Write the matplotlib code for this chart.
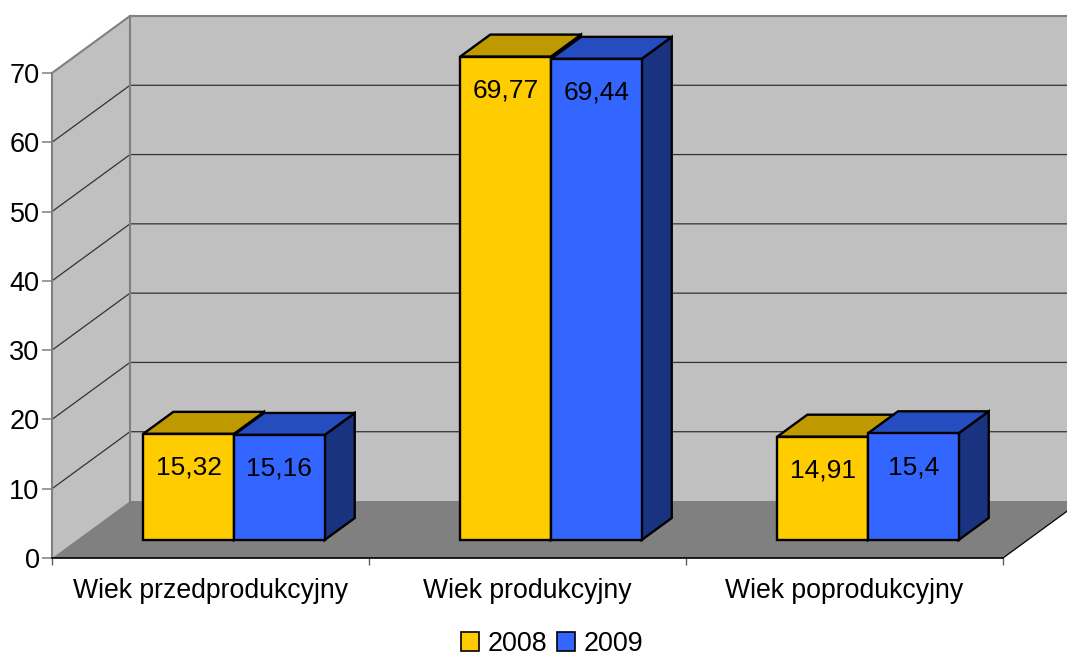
import matplotlib
matplotlib.use("Agg")
import matplotlib.pyplot as plt
from matplotlib.patches import Polygon, Patch

plt.rcParams['font.family'] = ['Liberation Sans', 'DejaVu Sans']

categories = ["Wiek przedprodukcyjny", "Wiek produkcyjny", "Wiek poprodukcyjny"]
series_names = ["2008", "2009"]
values_2008 = [15.32, 69.77, 14.91]
values_2009 = [15.16, 69.44, 15.4]
labels_2008 = ["15,32", "69,77", "14,91"]
labels_2009 = ["15,16", "69,44", "15,4"]
y_ticks = [0, 10, 20, 30, 40, 50, 60, 70]

FRONT = "#FFCC00", "#3366FF"
TOP = "#BF9900", "#264DBF"
SIDE = "#806600", "#1A3380"

W, H = 1067, 655
AX_H = 485
fig = plt.figure(figsize=(W / 100, H / 100), dpi=100, facecolor="white")
ax = fig.add_axes([52 / W, (H - 558) / H, 951 / W, AX_H / H])
ax.set_xlim(0, 3)
ax.set_ylim(0, 70)
ax.patch.set_visible(False)

# depth projection: one depth unit moves right and up on the page
DX = 78 / 317
DY = 57 / (AX_H / 70)


def proj(x, y, d):
    return (x + d * DX, y + d * DY)


def poly(points, fc, ec="none", lw=0, z=1):
    ax.add_patch(Polygon(points, closed=True, facecolor=fc, edgecolor=ec, linewidth=lw,
                         zorder=z, clip_on=False, joinstyle="miter"))


ymax = y_ticks[-1]
# walls and floor
poly([proj(0, 0, 1), proj(3, 0, 1), proj(3, ymax, 1), proj(0, ymax, 1)], "#C0C0C0", z=1)
poly([proj(0, 0, 0), proj(0, 0, 1), proj(0, ymax, 1), proj(0, ymax, 0)], "#C0C0C0", z=1)
poly([proj(0, 0, 0), proj(3, 0, 0), proj(3, 0, 1), proj(0, 0, 1)], "#808080", z=1.5)

# gridlines on both walls
for v in y_ticks[1:]:
    col = "#808080" if v == ymax else "#333333"
    lw = 1.5 if v == ymax else 0.9
    a, b, c = proj(0, v, 0), proj(0, v, 1), proj(3, v, 1)
    ax.plot([a[0], b[0], c[0]], [a[1], b[1], c[1]], color=col, lw=lw, zorder=1.2,
            clip_on=False, solid_joinstyle="miter")
# wall edges
a, b, c = proj(0, 0, 0), proj(0, 0, 1), proj(0, ymax, 1)
ax.plot([b[0], c[0]], [b[1], c[1]], color="#808080", lw=1.5, zorder=1.3, clip_on=False)
ax.plot([a[0], a[0]], [0, ymax], color="#808080", lw=1.5, zorder=1.3, clip_on=False)
d = proj(3, 0, 0), proj(3, 0, 1)
ax.plot([d[0][0], d[1][0]], [d[0][1], d[1][1]], color="black", lw=0.9, zorder=1.6, clip_on=False)

# bars
BAR_W = 90.7 / 317
GAP = (1 - 2 * BAR_W) / 2 - 1.2 / 317
D0 = 18 / 57
D1 = 40 / 57
LABEL_DROP = 4.9
EDGE = 1.7
FS = 19

for i in range(len(categories)):
    for s, (vals, labs) in enumerate([(values_2008, labels_2008), (values_2009, labels_2009)]):
        x0 = i + GAP + s * BAR_W
        x1 = x0 + BAR_W
        v = vals[i]
        z = 3 + i + s * 0.1
        poly([proj(x1, 0, D0), proj(x1, 0, D1), proj(x1, v, D1), proj(x1, v, D0)],
             SIDE[s], "black", EDGE, z)
        poly([proj(x0, v, D0), proj(x1, v, D0), proj(x1, v, D1), proj(x0, v, D1)],
             TOP[s], "black", EDGE, z)
        poly([proj(x0, 0, D0), proj(x1, 0, D0), proj(x1, v, D0), proj(x0, v, D0)],
             FRONT[s], "black", EDGE, z)
        p = proj((x0 + x1) / 2, v - LABEL_DROP, D0)
        ax.text(p[0], p[1], labs[i], ha="center", va="center", fontsize=FS,
                color="black", zorder=z + 0.05)

# axes
for sp in ("top", "right"):
    ax.spines[sp].set_visible(False)
ax.spines["left"].set_visible(False)
ax.spines["bottom"].set_color("black")
ax.spines["bottom"].set_linewidth(1.2)
ax.spines["bottom"].set_zorder(2)
ax.set_yticks(y_ticks)
ax.set_yticklabels([str(t) for t in y_ticks])
ax.tick_params(axis="y", length=7, width=1.1, color="#808080", labelsize=FS + 0.5, pad=2)
ax.set_xticks([0, 1, 2, 3])
ax.set_xticklabels([])
ax.tick_params(axis="x", which="major", length=5, width=1.0, color="#606060")
ax.set_xticks([0.5, 1.5, 2.5], minor=True)
ax.set_xticklabels(categories, minor=True)
ax.tick_params(axis="x", which="minor", length=0, labelsize=FS + 0.2, pad=14.5)

# legend
handles = [Patch(facecolor=FRONT[k], edgecolor="black", linewidth=1.2, label=series_names[k]) for k in range(2)]
fig.legend(handles=handles, loc="center", bbox_to_anchor=(552 / W, (H - 644) / H), ncol=2,
           frameon=False, fontsize=FS + 0.4, handlelength=0.68, handleheight=0.68, handletextpad=0.3,
           columnspacing=0.38, borderpad=0, borderaxespad=0)

fig.savefig("out.png", dpi=100, facecolor="white")
